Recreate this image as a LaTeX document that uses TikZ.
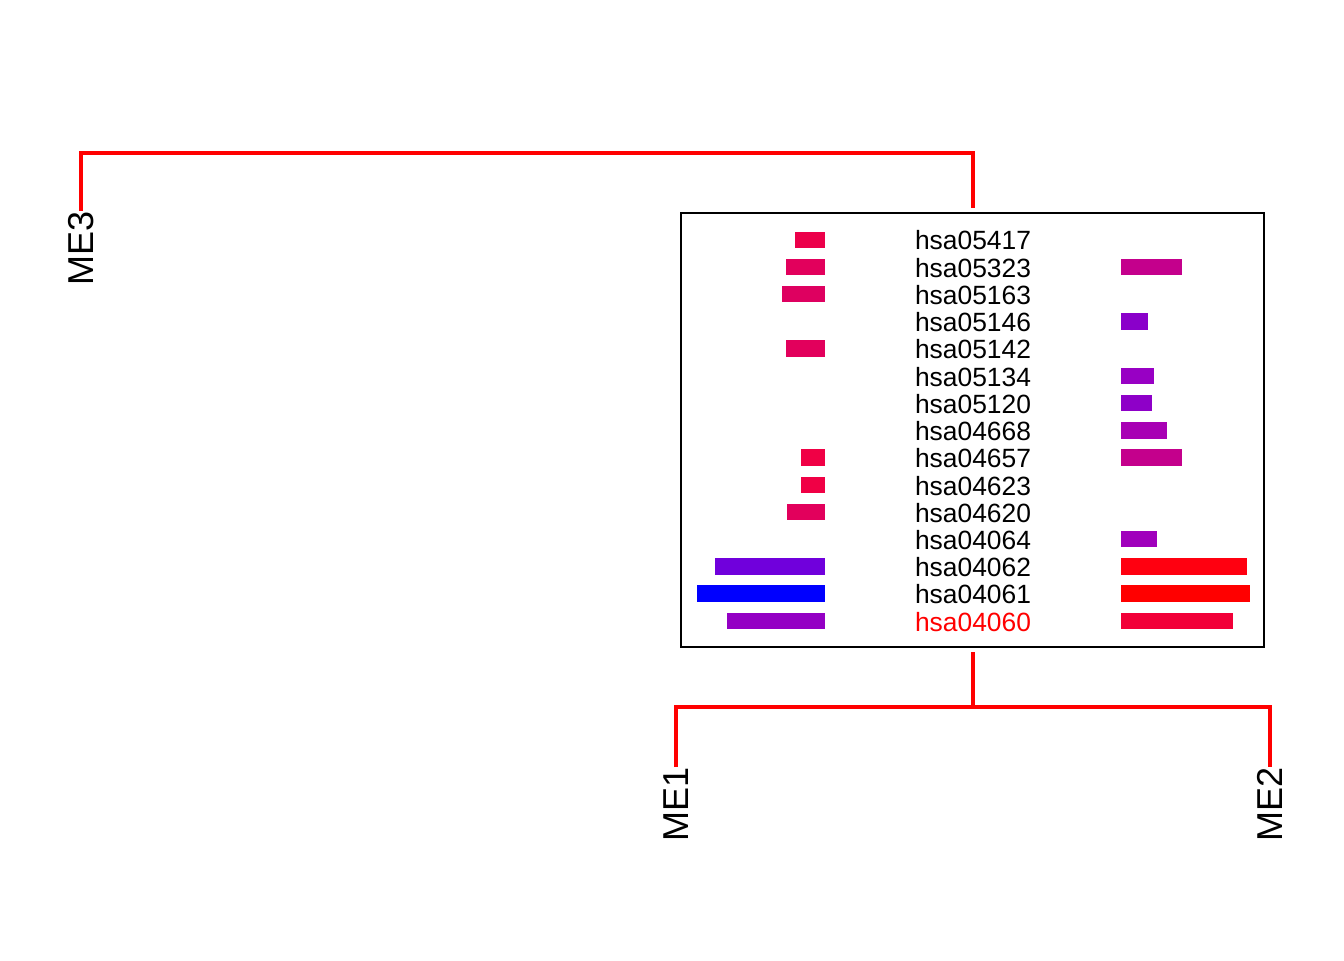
\documentclass[tikz,border=0pt]{standalone}
\usepackage{fontspec}
\setmainfont{Liberation Sans}
\usetikzlibrary{positioning}

% bar colours, blue to red
\definecolor{lA}{RGB}{236,0,74}
\definecolor{lB}{RGB}{226,0,92}
\definecolor{lC}{RGB}{222,0,96}
\definecolor{lD}{RGB}{240,0,69}
\definecolor{lE}{RGB}{112,0,220}
\definecolor{lF}{RGB}{0,0,255}
\definecolor{lG}{RGB}{148,0,196}
\definecolor{rA}{RGB}{196,0,140}
\definecolor{rB}{RGB}{138,0,202}
\definecolor{rC}{RGB}{152,0,196}
\definecolor{rD}{RGB}{142,0,200}
\definecolor{rE}{RGB}{168,0,180}
\definecolor{rF}{RGB}{160,0,188}
\definecolor{rG}{RGB}{255,0,16}
\definecolor{rH}{RGB}{255,0,0}
\definecolor{rI}{RGB}{242,0,56}

\begin{document}
\begin{tikzpicture}[x=0.75pt, y=-0.75pt,
    branch/.style={line width=3.4pt, red},
    leaf/.style={rotate=90, anchor=east, inner sep=0pt, font=\fontsize{27}{31}\selectfont},
    pathway/.style={inner sep=0pt, font=\fontsize{19.8}{22}\selectfont}]
    \useasboundingbox (0,0) rectangle (1344,960);

    % Panel holding the pathway bars
    \node[draw, line width=0.9pt, inner sep=0pt, outer sep=0pt,
          minimum width=437.25pt, minimum height=325.5pt] (panel) at (972.5,430) {};

    % Pathway names, one row each
    \def\gap{27.23}
    \foreach \lab/\col [count=\i] in {hsa05417/black, hsa05323/black, hsa05163/black,
        hsa05146/black, hsa05142/black, hsa05134/black, hsa05120/black, hsa04668/black,
        hsa04657/black, hsa04623/black, hsa04620/black, hsa04064/black, hsa04062/black,
        hsa04061/black, hsa04060/red} {
        \pgfmathsetmacro\y{240.5+\gap*(\i-1)}
        \node[pathway, text=\col] (p\i) at (973,\y) {\lab};
    }

    % Left bars (ME1)
    \foreach \i/\xl/\col in {1/795/lA, 2/786/lB, 3/782/lC, 5/786/lB, 9/801/lD,
        10/801/lD, 11/787/lB, 13/715/lE, 14/697/lF, 15/727/lG} {
        \pgfmathsetmacro\y{239.7+\gap*(\i-1)}
        \fill[\col] (\xl,\y-8.2) rectangle (825,\y+8.2);
    }

    % Right bars (ME2)
    \foreach \i/\xr/\col in {2/1182/rA, 4/1148/rB, 6/1154/rC, 7/1152/rD, 8/1167/rE,
        9/1182/rA, 12/1157/rF, 13/1247/rG, 14/1250/rH, 15/1233/rI} {
        \pgfmathsetmacro\y{239.7+\gap*(\i-1)}
        \fill[\col] (1121,\y-8.2) rectangle (\xr,\y+8.2);
    }

    % Leaves of the tree
    \node[leaf] (me3) at (81,211) {ME3};
    \node[leaf] (me1) at (676,767) {ME1};
    \node[leaf] (me2) at (1270,767) {ME2};

    % Branches
    \coordinate (root) at (973,153);
    \coordinate (split) at (973,707);
    \draw[branch, shorten >=3.75pt] (me3.east) |- (root) -- (root |- panel.north);
    \draw[branch] (me1.east) |- (split) -| (me2.east);
    \draw[branch, shorten <=3.75pt] (split |- panel.south) -- (split);
\end{tikzpicture}
\end{document}
